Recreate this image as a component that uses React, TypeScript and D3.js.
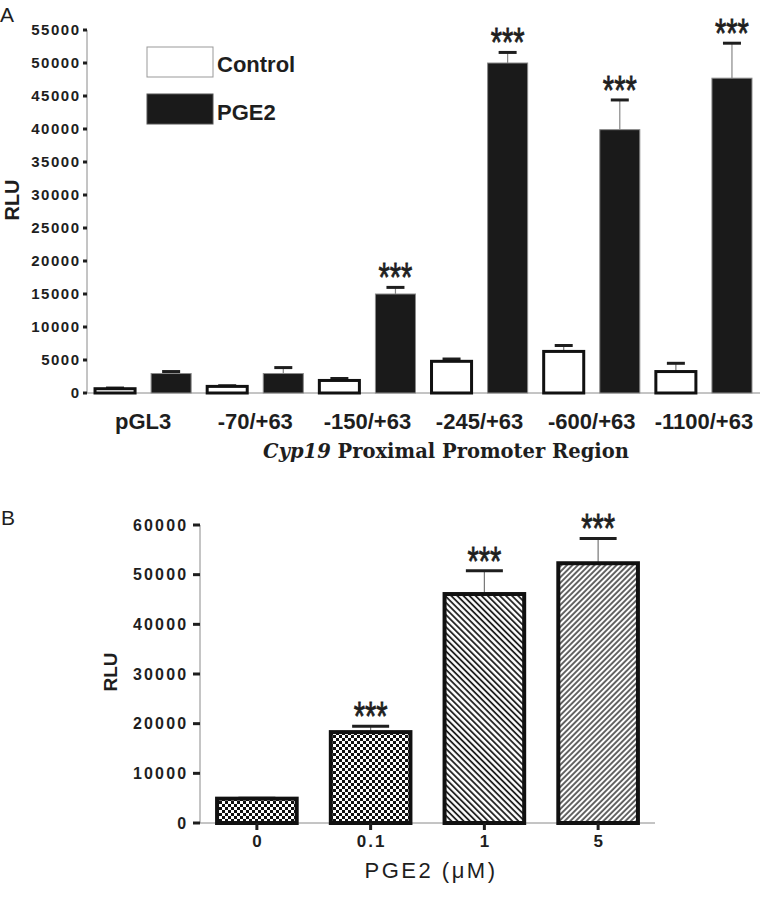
import React from "react";
import * as d3 from "d3";

// ---------- Panel A data ----------
const categoriesA = ["pGL3", "-70/+63", "-150/+63", "-245/+63", "-600/+63", "-1100/+63"];
const seriesA = ["Control", "PGE2"];
const controlValues = [650, 1000, 1900, 4800, 6300, 3250];
const controlErr = [100, 100, 300, 350, 900, 1250];
const pgeValues = [2950, 2950, 15000, 50000, 39900, 47700];
const pgeErr = [300, 900, 1000, 1600, 4500, 5300];
const sigA = ["", "", "***", "***", "***", "***"];
const yTicksA = [0, 5000, 10000, 15000, 20000, 25000, 30000, 35000, 40000, 45000, 50000, 55000];

// ---------- Panel B data ----------
const dosesB = ["0", "0.1", "1", "5"];
const valuesB = [4900, 18300, 46100, 52300];
const errB = [100, 1200, 4700, 5000];
const sigB = ["", "***", "***", "***"];
const patternsB = ["checker", "checker", "hatchBack", "hatchFwd"];
const yTicksB = [0, 10000, 20000, 30000, 40000, 50000, 60000];

const W = 772;
const H = 901;
const SANS = "'Liberation Sans', Arial, sans-serif";
const INK = "#1e1e1e";
const AXIS = "#8a8a8a";

function Stars({ cx, capY }: { cx: number; capY: number }) {
  return (
    <text
      transform={`translate(${cx},${capY + 4}) scale(1,1.4)`}
      textAnchor="middle"
      fontFamily={SANS}
      fontSize={29}
      fill={INK}
      stroke={INK}
      strokeWidth={0.6}
    >
      ***
    </text>
  );
}

export default function App() {
  // Panel A scales
  const yA = d3.scaleLinear().domain([0, 55000]).range([393, 30]);
  const xA = d3.scaleBand<string>().domain(categoriesA).range([87, 760]).padding(0);
  const subA = d3
    .scaleBand<string>()
    .domain(seriesA)
    .range([0, xA.bandwidth()])
    .paddingInner(0.286)
    .paddingOuter(0.143);
  const bwA = subA.bandwidth();

  // Panel B scales
  const yB = d3.scaleLinear().domain([0, 60000]).range([823, 525]);
  const xB = d3.scaleBand<string>().domain(dosesB).range([200, 655]).paddingInner(0.3).paddingOuter(0.15);
  const bwB = xB.bandwidth();

  return (
    <svg
      width={W}
      height={H}
      viewBox={`0 0 ${W} ${H}`}
      style={{ position: "absolute", left: 0, top: 0, display: "block", background: "#fff" }}
    >
      <defs>
        <pattern id="checker" width={6} height={6} patternUnits="userSpaceOnUse">
          <rect width={6} height={6} fill="#fff" />
          <rect x={0} y={0} width={3} height={3} fill="#111" />
          <rect x={3} y={3} width={3} height={3} fill="#111" />
        </pattern>
        <pattern
          id="hatchBack"
          width={4.3}
          height={4.3}
          patternUnits="userSpaceOnUse"
          patternTransform="rotate(-45)"
        >
          <rect width={4.3} height={4.3} fill="#fff" />
          <line x1={1} y1={0} x2={1} y2={4.3} stroke="#111" strokeWidth={1.7} />
        </pattern>
        <pattern
          id="hatchFwd"
          width={3.9}
          height={3.9}
          patternUnits="userSpaceOnUse"
          patternTransform="rotate(45)"
        >
          <rect width={3.9} height={3.9} fill="#fff" />
          <line x1={1} y1={0} x2={1} y2={3.9} stroke="#333" strokeWidth={1.5} />
        </pattern>
      </defs>

      {/* ================= Panel A ================= */}
      <text x={0} y={22} fontFamily={SANS} fontSize={21} fill={INK}>
        A
      </text>

      {/* axes */}
      <line x1={87} y1={yA(55000)} x2={87} y2={yA(0)} stroke={AXIS} strokeWidth={1} />
      <line x1={87} y1={yA(0)} x2={760} y2={yA(0)} stroke={AXIS} strokeWidth={1} />
      {yTicksA.map((t) => (
        <g key={t}>
          <line x1={83} x2={87} y1={yA(t)} y2={yA(t)} stroke={INK} strokeWidth={3} />
          <text
            x={80.5}
            y={yA(t) + 5.2}
            textAnchor="end"
            fontFamily={SANS}
            fontWeight="bold"
            fontSize={15}
            letterSpacing={1.5}
            fill={INK}
          >
            {t}
          </text>
        </g>
      ))}
      <text
        transform="translate(19,200) rotate(-90)"
        textAnchor="middle"
        fontFamily={SANS}
        fontWeight="bold"
        fontSize={20}
        fill={INK}
      >
        RLU
      </text>

      {/* bars */}
      {categoriesA.map((c, i) => {
        const gx = xA(c)!;
        const cxC = gx + subA("Control")! + bwA / 2;
        const cxP = gx + subA("PGE2")! + bwA / 2;
        const capC = yA(controlValues[i] + controlErr[i]);
        const capP = yA(pgeValues[i] + pgeErr[i]);
        return (
          <g key={c}>
            {/* control error */}
            <line x1={cxC} x2={cxC} y1={yA(controlValues[i])} y2={capC} stroke="#777" strokeWidth={1.2} />
            <line x1={cxC - 9} x2={cxC + 9} y1={capC} y2={capC} stroke={INK} strokeWidth={3} />
            <rect
              x={gx + subA("Control")!}
              y={yA(controlValues[i])}
              width={bwA}
              height={yA(0) - yA(controlValues[i])}
              fill="#fff"
              stroke="#111"
              strokeWidth={3}
            />
            {/* PGE2 error */}
            <line x1={cxP} x2={cxP} y1={yA(pgeValues[i])} y2={capP} stroke="#888" strokeWidth={1.2} />
            <line x1={cxP - 9} x2={cxP + 9} y1={capP} y2={capP} stroke={INK} strokeWidth={3} />
            <rect
              x={gx + subA("PGE2")!}
              y={yA(pgeValues[i])}
              width={bwA}
              height={yA(0) - yA(pgeValues[i])}
              fill="#1a1a1a"
              stroke="#8a8a8a"
              strokeWidth={1}
            />
            {sigA[i] && <Stars cx={cxP} capY={capP} />}
            <text
              x={gx + xA.bandwidth() / 2}
              y={429}
              textAnchor="middle"
              fontFamily={SANS}
              fontWeight="bold"
              fontSize={22}
              fill={INK}
            >
              {c}
            </text>
          </g>
        );
      })}

      {/* legend */}
      <rect x={147} y={47} width={66} height={30} fill="#fff" stroke="#999" strokeWidth={1} />
      <text x={217} y={72} fontFamily={SANS} fontWeight="bold" fontSize={22} fill={INK}>
        {seriesA[0]}
      </text>
      <rect x={147} y={94} width={66} height={30} fill="#1a1a1a" stroke="#555" strokeWidth={1} />
      <text x={217} y={120} fontFamily={SANS} fontWeight="bold" fontSize={22} fill={INK}>
        {seriesA[1]}
      </text>

      {/* title */}
      <text
        x={446}
        y={458}
        textAnchor="middle"
        fontFamily="'DejaVu Serif', Georgia, serif"
        fontWeight="bold"
        fontSize={19.5}
        fill={INK}
      >
        <tspan fontStyle="italic">Cyp19</tspan>
        <tspan> Proximal Promoter Region</tspan>
      </text>

      {/* ================= Panel B ================= */}
      <text x={1} y={525} fontFamily={SANS} fontSize={21} fill={INK}>
        B
      </text>
      <line x1={200} y1={yB(60000)} x2={200} y2={yB(0)} stroke={AXIS} strokeWidth={1} />
      <line x1={200} y1={yB(0)} x2={655} y2={yB(0)} stroke={AXIS} strokeWidth={1} />
      {yTicksB.map((t) => (
        <g key={t}>
          <line x1={193} x2={200} y1={yB(t)} y2={yB(t)} stroke={INK} strokeWidth={3} />
          <text
            x={188.4}
            y={yB(t) + 5.8}
            textAnchor="end"
            fontFamily={SANS}
            fontWeight="bold"
            fontSize={16}
            letterSpacing={2.2}
            fill={INK}
          >
            {t}
          </text>
        </g>
      ))}
      <text
        transform="translate(117,672) rotate(-90)"
        textAnchor="middle"
        fontFamily={SANS}
        fontWeight="bold"
        fontSize={19}
        fill={INK}
      >
        RLU
      </text>

      {dosesB.map((d, i) => {
        const x = xB(d)!;
        const cx = x + bwB / 2;
        const cap = yB(valuesB[i] + errB[i]);
        return (
          <g key={d}>
            <line x1={cx} x2={cx} y1={yB(valuesB[i])} y2={cap} stroke="#777" strokeWidth={1.2} />
            <line x1={cx - 18.5} x2={cx + 18.5} y1={cap} y2={cap} stroke={INK} strokeWidth={3} />
            <rect
              x={x}
              y={yB(valuesB[i])}
              width={bwB}
              height={yB(0) - yB(valuesB[i])}
              fill={`url(#${patternsB[i]})`}
              stroke="#111"
              strokeWidth={4}
            />
            {sigB[i] && <Stars cx={cx} capY={cap} />}
            <line x1={cx} x2={cx} y1={yB(0)} y2={yB(0) + 7} stroke={INK} strokeWidth={3} />
            <text
              x={cx + 1}
              y={847}
              textAnchor="middle"
              fontFamily={SANS}
              fontWeight="bold"
              fontSize={17}
              letterSpacing={2}
              fill={INK}
            >
              {d}
            </text>
          </g>
        );
      })}
      <text
        x={431}
        y={878}
        textAnchor="middle"
        fontFamily={SANS}
        fontSize={22}
        letterSpacing={2.5}
        fill={INK}
      >
        PGE2 (μM)
      </text>
    </svg>
  );
}
